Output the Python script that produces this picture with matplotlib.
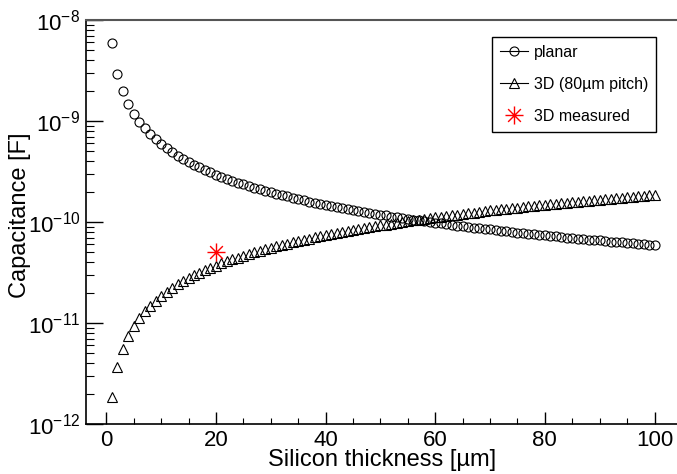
import numpy as np
import matplotlib
matplotlib.use("Agg")
import matplotlib.pyplot as plt
from matplotlib.lines import Line2D
from matplotlib.path import Path
from matplotlib.ticker import MultipleLocator, LogLocator, FuncFormatter, NullFormatter

plt.rcParams['font.family'] = ['Liberation Sans', 'DejaVu Sans']
plt.rcParams['mathtext.default'] = 'regular'

# silicon thickness in um
thickness = np.arange(1, 101)

# planar sensor capacitance [pF]
planar_pF = [
    5900, 2950, 1967, 1475, 1180, 983, 843, 738, 656, 590,
    536, 492, 454, 421, 393, 369, 347, 328, 311, 295,
    281, 268, 257, 246, 236, 227, 219, 211, 203, 197,
    190, 184, 179, 174, 169, 164, 159, 155, 151, 148,
    144, 140, 137, 134, 131, 128, 126, 123, 120, 118,
    116, 113, 111, 109, 107, 105, 104, 102, 100, 98.3,
    96.7, 95.2, 93.7, 92.2, 90.8, 89.4, 88.1, 86.8, 85.5, 84.3,
    83.1, 81.9, 80.8, 79.7, 78.7, 77.6, 76.6, 75.6, 74.7, 73.8,
    72.8, 72.0, 71.1, 70.2, 69.4, 68.6, 67.8, 67.0, 66.3, 65.6,
    64.8, 64.1, 63.4, 62.8, 62.1, 61.5, 60.8, 60.2, 59.6, 59.0,
]

# 3D sensor capacitance, 80 um pitch [pF]
sensor3d_pF = [
    1.85, 3.70, 5.55, 7.40, 9.25, 11.1, 13.0, 14.8, 16.7, 18.5,
    20.4, 22.2, 24.1, 25.9, 27.8, 29.6, 31.5, 33.3, 35.2, 37.0,
    38.9, 40.7, 42.6, 44.4, 46.3, 48.1, 50.0, 51.8, 53.7, 55.5,
    57.4, 59.2, 61.1, 62.9, 64.8, 66.6, 68.5, 70.3, 72.2, 74.0,
    75.9, 77.7, 79.6, 81.4, 83.3, 85.1, 87.0, 88.8, 90.7, 92.5,
    94.4, 96.2, 98.1, 99.9, 102, 104, 105, 107, 109, 111,
    113, 115, 117, 118, 120, 122, 124, 126, 128, 130,
    131, 133, 135, 137, 139, 141, 143, 144, 146, 148,
    150, 152, 154, 155, 157, 159, 161, 163, 165, 167,
    168, 170, 172, 174, 176, 178, 179, 181, 183, 185,
]

# measured 3D device
measured_thickness = [20]
measured_pF = [50]

planar = np.array(planar_pF) * 1e-12
sensor3d = np.array(sensor3d_pF) * 1e-12
measured = np.array(measured_pF) * 1e-12

# eight-armed star marker
M, L = Path.MOVETO, Path.LINETO
d = 0.7071
star = Path([(-1, 0), (1, 0), (0, -1), (0, 1), (-d, -d), (d, d), (-d, d), (d, -d)],
            [M, L, M, L, M, L, M, L])

W, H = 677, 474
fig = plt.figure(figsize=(W / 100, H / 100), dpi=100)
ax = fig.add_axes([86 / W, 1 - 424 / H, 1 - 86 / W, (424 - 20) / H])

ax.plot(thickness, planar, ls='none', marker='o', ms=6.5, mfc='none', mec='k', mew=0.8)
ax.plot(thickness, sensor3d, ls='none', marker='^', ms=6.5, mfc='none', mec='k', mew=0.8)
ax.plot(measured_thickness, measured, ls='none', marker=star, ms=13, mec='red', mew=1.0)

ax.set_yscale('log')
ax.set_xlim(-3.7, 104.1)
ax.set_ylim(1e-12, 1e-8)

ax.spines['right'].set_visible(False)
ax.spines['top'].set_color('#555555')
ax.spines['top'].set_linewidth(1.5)
for s in ('left', 'bottom'):
    ax.spines[s].set_linewidth(1.2)

ax.xaxis.set_major_locator(MultipleLocator(20))
ax.xaxis.set_minor_locator(MultipleLocator(5))
ax.yaxis.set_major_locator(LogLocator(base=10))
ax.yaxis.set_minor_locator(LogLocator(base=10, subs=np.arange(2, 10)))
ax.yaxis.set_minor_formatter(NullFormatter())
ax.yaxis.set_major_formatter(FuncFormatter(lambda v, p: '$10^{%d}$' % round(np.log10(v))))

ax.tick_params(which='both', direction='in', top=False, right=False, labelsize=16)
ax.tick_params(axis='x', which='major', length=8.6, width=1.0, pad=4)
ax.tick_params(axis='x', which='minor', length=4.3, width=0.8)
ax.tick_params(axis='y', which='major', length=12, width=1.0, pad=4)
ax.tick_params(axis='y', which='minor', length=6, width=0.8)

ax.set_xlabel('Silicon thickness [µm]', fontsize=17)
ax.set_ylabel('Capacitance [F]', fontsize=17)
ax.xaxis.set_label_coords(0.501, -0.063)
ax.yaxis.set_label_coords(-0.093, 0.517)

handles = [
    Line2D([], [], color='k', lw=0.8, marker='o', ms=6.5, mfc='none', mec='k', mew=0.8),
    Line2D([], [], color='k', lw=0.8, marker='^', ms=6.5, mfc='none', mec='k', mew=0.8),
    Line2D([], [], ls='none', marker=star, ms=13, mec='red', mew=1.0),
]
labels = ['planar', '3D (80µm pitch)', '3D measured']
leg = ax.legend(handles, labels, loc='upper left', bbox_to_anchor=(492 / W, 1 - 37 / H),
                bbox_transform=fig.transFigure, fontsize=11.5, frameon=True, fancybox=False,
                edgecolor='k', framealpha=1, borderaxespad=0, handlelength=1.75,
                handletextpad=0.35, labelspacing=1.05, borderpad=0.5)
leg.get_frame().set_linewidth(1.0)

fig.savefig('out.png', dpi=100)
